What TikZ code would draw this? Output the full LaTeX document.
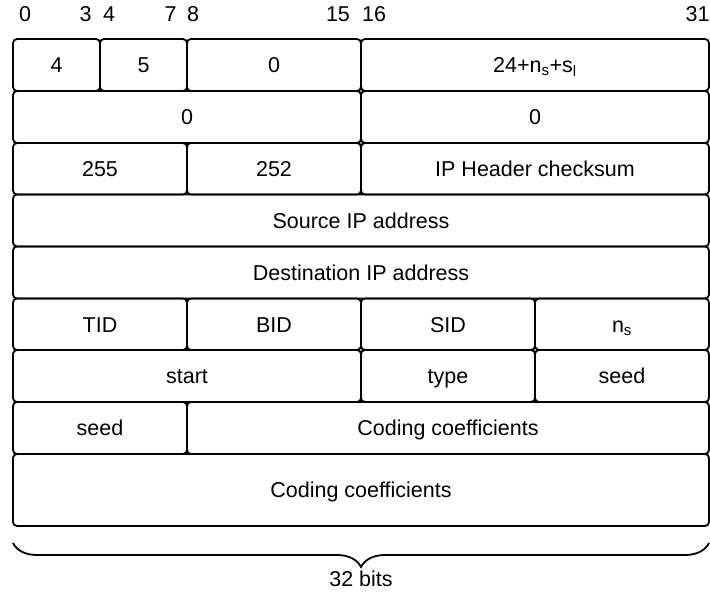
\documentclass[tikz,border=0pt]{standalone}
\usepackage{fontspec}
\setmainfont{Liberation Sans}
\usetikzlibrary{decorations.pathreplacing}

\tikzset{
	field/.style={draw, line width=1.8pt, rounded corners=4pt, inner sep=0pt,
		text height=15.5pt, text depth=0pt,
		font=\fontsize{21.5}{25}\selectfont},
	bitnum/.style={inner sep=0pt, text height=15.5pt, text depth=0pt,
		font=\fontsize{21.5}{25}\selectfont}
}
% name, first bit, last bit+1, top, bottom, text
\newcommand{\pfield}[6]{%
	\node[field, minimum width={21.75*(#3-#2)*1pt}, minimum height={(#5-#4)*1pt}]
		(#1) at ({13+21.75*(#2+#3)/2},{(#4+#5)/2}) {#6};}

\begin{document}
\begin{tikzpicture}[x=1pt,y=-1pt]
	\useasboundingbox (0,0) rectangle (710,592);
	% bit numbers
	\node[bitnum] (b0) at (25,14) {0};
	\node[bitnum] (b3) at (85.5,14) {3};
	\node[bitnum] (b4) at (109,14) {4};
	\node[bitnum] (b7) at (170.5,14) {7};
	\node[bitnum] (b8) at (193,14) {8};
	\node[bitnum] (b15) at (338,14) {15};
	\node[bitnum] (b16) at (374,14) {16};
	\node[bitnum] (b31) at (697.5,14) {31};
	% header fields
	\pfield{ver}{0}{4}{39}{91}{4}
	\pfield{ihl}{4}{8}{39}{91}{5}
	\pfield{tos}{8}{16}{39}{91}{0}
	\pfield{len}{16}{32}{39}{91}{24+n\textsubscript{s}+s\textsubscript{l}}
	\pfield{ident}{0}{16}{91}{143}{0}
	\pfield{frag}{16}{32}{91}{143}{0}
	\pfield{ttl}{0}{8}{143}{194.5}{255}
	\pfield{proto}{8}{16}{143}{194.5}{252}
	\pfield{chk}{16}{32}{143}{194.5}{IP Header checksum}
	\pfield{src}{0}{32}{194.5}{246.5}{Source IP address}
	\pfield{dst}{0}{32}{246.5}{298.5}{Destination IP address}
	\pfield{tid}{0}{8}{298.5}{350}{TID}
	\pfield{bid}{8}{16}{298.5}{350}{BID}
	\pfield{sid}{16}{24}{298.5}{350}{SID}
	\pfield{ns}{24}{32}{298.5}{350}{n\textsubscript{s}}
	\pfield{start}{0}{16}{350}{402}{start}
	\pfield{type}{16}{24}{350}{402}{type}
	\pfield{seedhi}{24}{32}{350}{402}{seed}
	\pfield{seedlo}{0}{8}{402}{454}{seed}
	\pfield{coefa}{8}{32}{402}{454}{Coding coefficients}
	\pfield{coefb}{0}{32}{454}{526}{Coding coefficients}
	% width brace
	\draw[line width=1.8pt, decorate, decoration={brace, mirror, amplitude=24pt}]
		(13,543) -- (709,543);
	\node[bitnum] (width) at (361,579) {32 bits};
\end{tikzpicture}
\end{document}
